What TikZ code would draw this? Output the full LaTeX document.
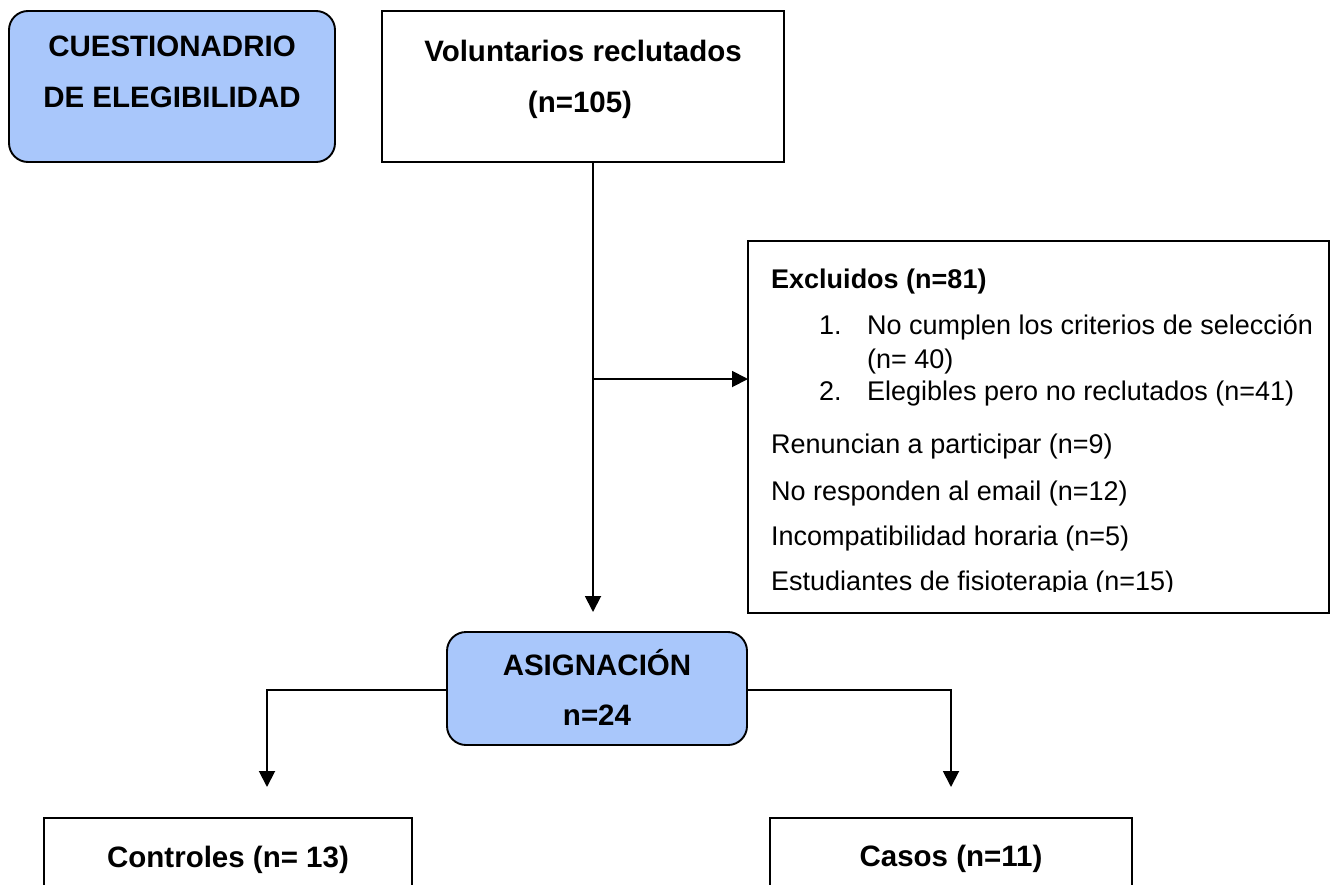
\documentclass[tikz,border=0pt]{standalone}
\usepackage{fontspec}
\setmainfont{Liberation Sans}
\usetikzlibrary{arrows.meta}
\definecolor{boxblue}{RGB}{169,199,251}
\begin{document}
\begin{tikzpicture}[x=1pt,y=-1pt,
  box/.style={draw=black, line width=1.9pt, inner sep=0pt, outer sep=0pt},
  rbox/.style={box, fill=boxblue, rounded corners=19pt},
  big/.style={font=\fontsize{29.5}{34}\selectfont\bfseries, inner sep=0pt, anchor=base},
  txt/.style={font=\fontsize{27}{32}\selectfont, inner sep=0pt, anchor=base west},
  conn/.style={line width=1.9pt},
  arr/.style={conn, -{Triangle[length=16pt,width=16pt]}}]
\useasboundingbox (0,0) rectangle (1336,884);
\clip (0,0) rectangle (1336,884);
\fill[white] (0,0) rectangle (1336,884);

% boxes
\node[rbox, minimum width=326pt, minimum height=151pt] (cuest) at (172,86.5) {};
\node[box, minimum width=402pt, minimum height=151pt] (vol) at (583,86.5) {};
\node[box, minimum width=581pt, minimum height=372pt] (excl) at (1038.5,427) {};
\node[rbox, minimum width=300pt, minimum height=113pt] (asig) at (597,688.5) {};
\node[box, minimum width=368pt, minimum height=140pt] (ctrl) at (228,888) {};
\node[box, minimum width=362pt, minimum height=140pt] (casos) at (951,888) {};

% texts
\node[big] (c1) at (172,56) {CUESTIONADRIO};
\node[big] (c2) at (172,107) {DE ELEGIBILIDAD};
\node[big] (v1) at (583,61) {Voluntarios reclutados};
\node[big] (v2) at (580,112) {(n=105)};
\node[big] (a1) at (597,675) {ASIGNACIÓN};
\node[big] (a2) at (597,725) {n=24};
\node[big] (k1) at (228,867) {Controles (n= 13)};
\node[big] (k2) at (951,866) {Casos (n=11)};

\node[txt, font=\fontsize{27}{32}\selectfont\bfseries] (e0) at (771,288) {Excluidos (n=81)};
\node[txt] (e1n) at (819,334) {1.};
\node[txt] (e1) at (867,334) {No cumplen los criterios de selección};
\node[txt] (e1b) at (867,368) {(n= 40)};
\node[txt] (e2n) at (819,400) {2.};
\node[txt] (e2) at (867,400) {Elegibles pero no reclutados (n=41)};
\node[txt] (e3) at (771,453) {Renuncian a participar (n=9)};
\node[txt] (e4) at (771,500) {No responden al email (n=12)};
\node[txt] (e5) at (771,545) {Incompatibilidad horaria (n=5)};
\begin{scope}
\clip (760,560) rectangle (1320,591.5);
\node[txt] (e6) at (771,590) {Estudiantes de fisioterapia (n=15)};
\end{scope}

% connectors
\coordinate (split) at (593,379);
\coordinate (cl) at (267,787);
\coordinate (cr) at (951,787);
\draw[arr] ([xshift=10pt]vol.south) -- ([xshift=-4pt,yshift=20pt]asig.north);
\draw[arr] (split) -- (split -| excl.west);
\draw[arr] ([yshift=-1.5pt]asig.west) -| (cl);
\draw[arr] ([yshift=-1.5pt]asig.east) -| (cr);
\end{tikzpicture}
\end{document}
